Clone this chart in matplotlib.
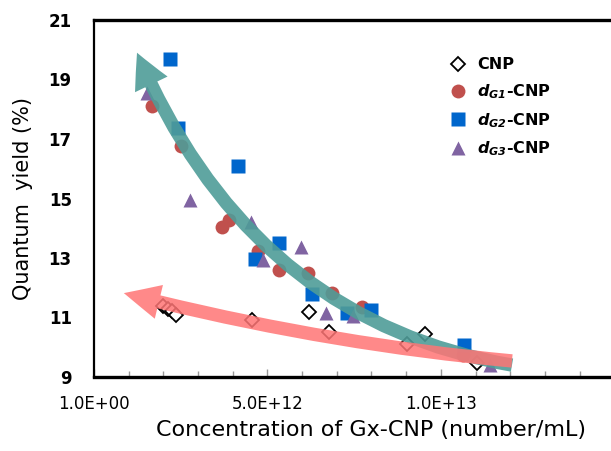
import matplotlib.pyplot as plt
from matplotlib.patches import FancyArrowPatch
from matplotlib.path import Path
from matplotlib.ticker import FixedLocator, MultipleLocator

# concentrations in units of 1e12 particles/mL, quantum yield in %
cnp_x = [1.99, 2.13, 2.25, 2.36, 4.55, 6.20, 6.77, 9.02, 9.54, 11.04]
cnp_y = [11.39, 11.29, 11.22, 11.08, 10.92, 11.19, 10.51, 10.11, 10.45, 9.47]

g1_x = [1.67, 2.51, 3.69, 3.89, 4.73, 5.33, 6.17, 6.86, 7.72, 10.63]
g1_y = [18.11, 16.76, 14.04, 14.28, 13.24, 12.60, 12.50, 11.82, 11.35, 9.74]

g2_x = [2.19, 2.42, 4.15, 4.64, 5.33, 6.28, 7.29, 7.98, 10.66]
g2_y = [19.69, 17.37, 16.09, 12.97, 13.50, 11.79, 11.15, 11.25, 10.08]

g3_x = [1.53, 2.77, 4.52, 4.87, 5.97, 6.69, 7.46, 11.41]
g3_y = [18.55, 14.95, 14.21, 12.93, 13.37, 11.15, 11.05, 9.40]

labels = ["CNP",
          r"$\mathbfit{d}_{\mathbfit{G1}}$-CNP",
          r"$\mathbfit{d}_{\mathbfit{G2}}$-CNP",
          r"$\mathbfit{d}_{\mathbfit{G3}}$-CNP"]

x_ticks = [0, 5, 10]
x_tick_labels = ["1.0E+00", "5.0E+12", "1.0E+13"]
y_ticks = [9, 11, 13, 15, 17, 19, 21]

# trend arrows: tail, bezier control, tip (same units as the data)
teal_trend = [(12.05, 9.40), (4.50, 10.92), (1.24, 19.90)]
pink_trend = [(12.05, 9.54), (6.46, 10.14), (0.86, 11.82)]

S = 1e12

fig = plt.figure(figsize=(6.11, 4.51), dpi=100)
ax = fig.add_axes([94 / 611, 74 / 451, 555 / 611, 357 / 451])

ax.plot([x * S for x in cnp_x], cnp_y, "D", ms=7, mfc="white", mec="black",
        mew=1.3, label=labels[0], zorder=3)
ax.plot([x * S for x in g1_x], g1_y, "o", ms=10, color="#C0504D",
        mec="none", label=labels[1], zorder=3)
ax.plot([x * S for x in g2_x], g2_y, "s", ms=9.5, color="#0066CC",
        mec="none", label=labels[2], zorder=3)
ax.plot([x * S for x in g3_x], g3_y, "^", ms=10.5, color="#8064A2",
        mec="none", label=labels[3], zorder=3)


def trend_arrow(pts, color, alpha, tail, head_w, head_l):
    path = Path([(x * S, y) for x, y in pts],
                [Path.MOVETO, Path.CURVE3, Path.CURVE3])
    arrow = FancyArrowPatch(
        path=path, mutation_scale=20,
        arrowstyle=f"simple,head_length={head_l},head_width={head_w},tail_width={tail}",
        color=color, alpha=alpha, lw=0, zorder=4)
    ax.add_patch(arrow)


trend_arrow(teal_trend, "#4F9C98", 0.9, 0.48, 1.3, 1.25)
trend_arrow(pink_trend, "#FF7575", 0.85, 0.48, 1.25, 1.3)

ax.set_xlim(0, 16 * S)
ax.set_ylim(9, 21)

ax.xaxis.set_major_locator(FixedLocator([t * S for t in x_ticks]))
ax.set_xticklabels(x_tick_labels)
ax.xaxis.set_minor_locator(MultipleLocator(S))
ax.tick_params(axis="x", which="both", direction="in", color="#999999",
               labelsize=12, pad=13)
ax.tick_params(axis="x", which="major", length=6, width=1)
ax.tick_params(axis="x", which="minor", length=4, width=1)

ax.set_yticks(y_ticks)
ax.set_yticks([11, 15, 19], minor=True)
ax.tick_params(axis="y", which="major", length=0, labelsize=12, pad=16)
ax.tick_params(axis="y", which="minor", direction="in", length=5, width=1,
               color="#999999")
for lab in ax.get_yticklabels():
    lab.set_fontweight("bold")

ax.spines["right"].set_visible(False)
ax.spines["top"].set_linewidth(2.4)
ax.spines["bottom"].set_linewidth(2.4)
ax.spines["left"].set_linewidth(1.6)

ax.set_ylabel("Quantum  yield (%)", fontsize=15)
ax.yaxis.set_label_coords(-0.11, 0.5)
ax.set_xlabel("Concentration of Gx-CNP (number/mL)", fontsize=16)
ax.xaxis.set_label_coords(0.5, -0.12)

ax.legend(loc="upper left", bbox_to_anchor=(434 / 611, 1 - 43 / 451),
          bbox_transform=fig.transFigure, frameon=False, numpoints=1,
          handlelength=1.2, handletextpad=0.6, labelspacing=0.62,
          prop={"weight": "bold", "size": 11.5})

fig.savefig("out.png", dpi=100)
